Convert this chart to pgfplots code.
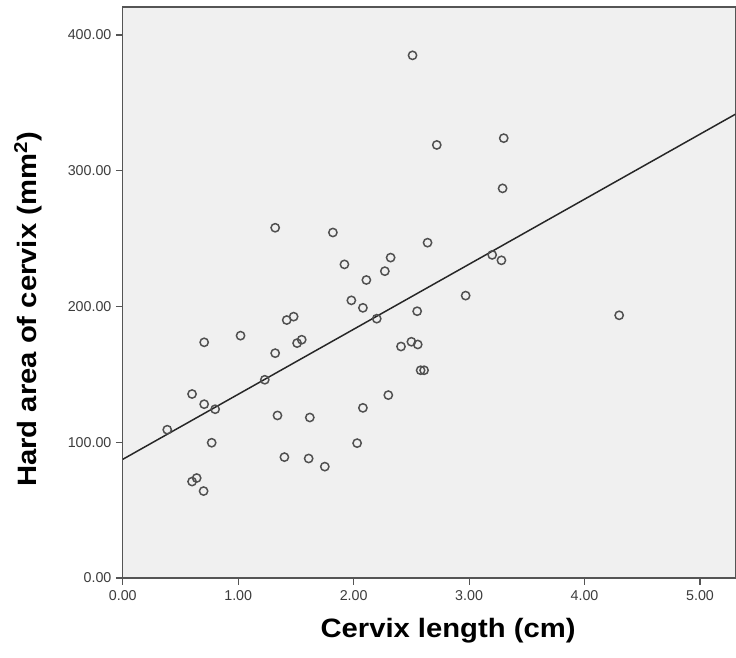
\documentclass[border=0pt]{standalone}
\usepackage{fontspec}
\setmainfont{Liberation Sans}
\newfontfamily\labelfont{Liberation Sans}[FakeStretch=1.1]
\usepackage{pgfplots}
\pgfplotsset{compat=1.18}
\definecolor{framegray}{RGB}{85,85,85}
\definecolor{bggray}{RGB}{240,240,240}
\definecolor{markgray}{RGB}{80,80,80}
\definecolor{ticktext}{RGB}{60,60,60}
\begin{document}
\begin{tikzpicture}
\begin{axis}[
  at={(0,0)}, anchor=south west,
  scale only axis,
  width=620bp, height=578bp,
  xmin=0, xmax=5.306, ymin=0, ymax=420.7,
  xtick={0,1,2,3,4,5}, ytick={0,100,200,300,400},
  tick align=outside, tick pos=left,
  major tick length=7bp,
  every tick/.style={framegray, line width=1.2bp},
  axis line style={framegray, line width=1.4bp},
  axis background/.style={fill=bggray},
  /pgf/number format/.cd, fixed, fixed zerofill, precision=2, assume math mode=true,
  /pgfplots/.cd,
  tick label style={font=\fontsize{14.5}{16}\selectfont, text=ticktext},
  xticklabel style={yshift=-2bp},
  yticklabel style={xshift=-1bp},
  xlabel={Cervix length (cm)},
  ylabel={Hard area of cervix (mm\textsuperscript{2})},
  every axis x label/.style={at={(axis description cs:0.531,-0.092)}, anchor=center, font=\labelfont\fontsize{27}{30}\selectfont\bfseries},
  every axis y label/.style={at={(axis description cs:-0.155,0.470)}, rotate=90, anchor=center, font=\labelfont\fontsize{27}{30}\selectfont\bfseries},
  clip=true,
]
\addplot[only marks, mark=o, mark size=4.2bp, mark options={line width=1.5bp, markgray}] coordinates {
(2.51,385) (1.32,258) (1.82,254.5) (1.92,231) (2.32,236) (2.27,226)
(2.11,219.5) (2.72,319) (3.30,324) (3.29,287) (2.64,247) (3.20,238)
(3.28,234) (2.97,208) (1.98,204.5) (2.08,199) (2.20,191) (2.55,196.5)
(1.42,190) (1.48,192.5) (1.02,178.5) (0.705,173.6) (1.51,173) (1.55,175.5)
(1.32,165.6) (2.41,170.5) (2.50,174) (2.555,172) (2.58,153) (2.61,153)
(4.30,193.5) (1.23,146) (0.60,135.5) (0.705,128) (0.80,124.3) (1.34,119.7)
(1.62,118.2) (2.30,134.7) (2.08,125.3) (0.385,109.2) (0.77,99.6) (2.03,99.3)
(1.40,89) (1.61,88) (1.75,82) (0.60,71) (0.64,73.6) (0.70,64)
};
\addplot[black!85, line width=1.5bp] coordinates {(0,87.4) (5.306,341.6)};
\end{axis}
\useasboundingbox (-124.3bp,-81bp) rectangle (611.7bp,585bp);
\end{tikzpicture}
\end{document}
